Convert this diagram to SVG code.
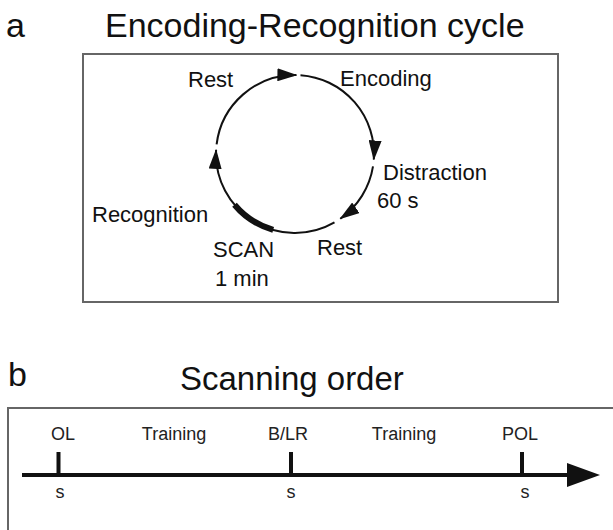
<svg xmlns="http://www.w3.org/2000/svg" width="613" height="530" viewBox="0 0 613 530">
  <style>
    text { font-family: "Liberation Sans", Arial, sans-serif; fill: #111; }
    .panel { font-size: 34px; }
    .title { font-size: 33px; }
    .lbl { font-size: 22px; }
    .tl { font-size: 18px; fill: #222; text-anchor: middle; }
    .frame { fill: none; stroke: #666; stroke-width: 2; }
    .arc { fill: none; stroke: #111; stroke-width: 2; }
  </style>
  <defs>
    <marker id="ah" markerUnits="userSpaceOnUse" markerWidth="20" markerHeight="13" refX="19" refY="6.5" orient="auto">
      <path d="M0,0 L20,6.5 L0,13 z" fill="#111"/>
    </marker>
  </defs>
  <rect width="613" height="530" fill="#fff"/>

  <!-- Panel a -->
  <g id="panel-a">
    <text class="panel" x="6" y="37">a</text>
    <text class="title" x="105" y="37" style="font-size:34px">Encoding-Recognition cycle</text>
    <rect class="frame" x="83" y="54" width="475" height="248"/>
  </g>

  <g id="connectors">
    <!-- circle centre (295,154), r=79, segments clockwise -->
    <path class="arc" d="M300.5,75.2 A79,79 0 0 1 373.8,159.5" marker-end="url(#ah)"/>
    <path class="arc" d="M373.0,166.4 A79,79 0 0 1 340.3,218.7" marker-end="url(#ah)"/>
    <path class="arc" d="M334.5,222.4 A79,79 0 0 1 216.1,149.9" marker-end="url(#ah)"/>
    <path class="arc" d="M216.6,144.4 A79,79 0 0 1 296.4,75.0" marker-end="url(#ah)"/>
    <path d="M273.2,229.9 A79,79 0 0 1 234.5,204.8" fill="none" stroke="#111" stroke-width="6"/>
  </g>

  <g id="node-rest-top"><text class="lbl" x="188" y="87">Rest</text></g>
  <g id="node-encoding"><text class="lbl" x="340" y="86">Encoding</text></g>
  <g id="node-distraction">
    <text class="lbl" x="383" y="180">Distraction</text>
    <text class="lbl" x="377" y="208">60 s</text>
  </g>
  <g id="node-rest-bottom"><text class="lbl" x="317" y="255">Rest</text></g>
  <g id="node-scan">
    <text class="lbl" x="213" y="257">SCAN</text>
    <text class="lbl" x="215" y="286">1 min</text>
  </g>
  <g id="node-recognition"><text class="lbl" x="92" y="222">Recognition</text></g>

  <!-- Panel b -->
  <g id="panel-b">
    <text class="panel" x="8" y="386">b</text>
    <text class="title" x="180" y="390">Scanning order</text>
    <rect class="frame" x="8" y="408" width="640" height="160" stroke="#555"/>
  </g>

  <g id="timeline">
    <path d="M22,475 H572" stroke="#111" stroke-width="4" fill="none"/>
    <polygon points="567,463 600,475 567,487" fill="#111"/>
    <path d="M58.5,452 V475 M291,452 V475 M522,452 V475" stroke="#111" stroke-width="4" fill="none"/>
  </g>

  <g id="node-ol"><text class="tl" x="63" y="440">OL</text><text class="tl" x="60" y="498">s</text></g>
  <g id="node-training-1"><text class="tl" x="174" y="440">Training</text></g>
  <g id="node-blr"><text class="tl" x="288" y="440">B/LR</text><text class="tl" x="291" y="498">s</text></g>
  <g id="node-training-2"><text class="tl" x="404" y="440">Training</text></g>
  <g id="node-pol"><text class="tl" x="520" y="440">POL</text><text class="tl" x="525" y="498">s</text></g>
</svg>
